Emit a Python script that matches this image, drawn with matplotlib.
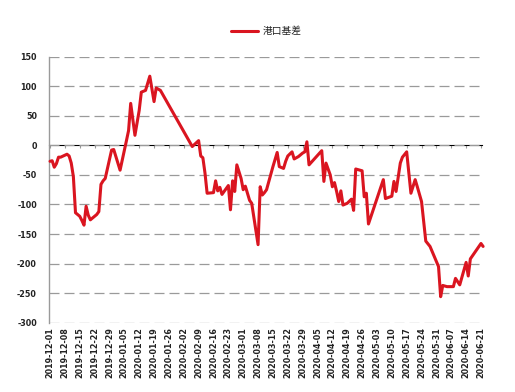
import matplotlib
matplotlib.use('Agg')
import matplotlib.pyplot as plt
import matplotlib.dates as mdates
import pandas as pd

plt.rcParams['font.family'] = ['DejaVu Sans', 'Noto Sans CJK SC']
plt.rcParams['axes.unicode_minus'] = False

SERIES_NAME = '港口基差'

# daily port basis
DATES = [
    '2019-12-01', '2019-12-02', '2019-12-03', '2019-12-04', '2019-12-05',
    '2019-12-06', '2019-12-09', '2019-12-10', '2019-12-11', '2019-12-12',
    '2019-12-13', '2019-12-15', '2019-12-16', '2019-12-17', '2019-12-18',
    '2019-12-19', '2019-12-20', '2019-12-23', '2019-12-24', '2019-12-25',
    '2019-12-26', '2019-12-27', '2019-12-30', '2019-12-31', '2020-01-03',
    '2020-01-06', '2020-01-07', '2020-01-08', '2020-01-10', '2020-01-12',
    '2020-01-13', '2020-01-15', '2020-01-17', '2020-01-19', '2020-01-20',
    '2020-01-22', '2020-02-06', '2020-02-09', '2020-02-10', '2020-02-11',
    '2020-02-12', '2020-02-13', '2020-02-16', '2020-02-17', '2020-02-18',
    '2020-02-19', '2020-02-20', '2020-02-23', '2020-02-24', '2020-02-25',
    '2020-02-26', '2020-02-27', '2020-02-29', '2020-03-01', '2020-03-02',
    '2020-03-04', '2020-03-05', '2020-03-08', '2020-03-09', '2020-03-10',
    '2020-03-11', '2020-03-12', '2020-03-15', '2020-03-17', '2020-03-18',
    '2020-03-20', '2020-03-21', '2020-03-22', '2020-03-24', '2020-03-25',
    '2020-03-27', '2020-03-29', '2020-03-30', '2020-03-31', '2020-04-01',
    '2020-04-03', '2020-04-07', '2020-04-08', '2020-04-09', '2020-04-11',
    '2020-04-12', '2020-04-13', '2020-04-14', '2020-04-15', '2020-04-16',
    '2020-04-17', '2020-04-19', '2020-04-21', '2020-04-22', '2020-04-23',
    '2020-04-26', '2020-04-27', '2020-04-28', '2020-04-29', '2020-05-06',
    '2020-05-07', '2020-05-10', '2020-05-11', '2020-05-12', '2020-05-14',
    '2020-05-15', '2020-05-17', '2020-05-19', '2020-05-21', '2020-05-22',
    '2020-05-24', '2020-05-26', '2020-05-28', '2020-05-30', '2020-06-01',
    '2020-06-02', '2020-06-03', '2020-06-05', '2020-06-08', '2020-06-09',
    '2020-06-11', '2020-06-14', '2020-06-15', '2020-06-16', '2020-06-21',
    '2020-06-22',
]
BASIS = [
    -27, -26, -37, -31, -20,
    -20, -15, -18, -30, -53,
    -114, -120, -127, -135, -103,
    -118, -126, -117, -112, -66,
    -60, -56, -8, -7, -42,
    8, 25, 71, 17, 59,
    90, 93, 117, 74, 97,
    93, -2, 8, -18, -21,
    -47, -81, -80, -60, -77,
    -71, -83, -68, -109, -60,
    -78, -33, -56, -75, -69,
    -93, -98, -168, -70, -84,
    -80, -75, -36, -12, -36,
    -39, -27, -18, -11, -23,
    -19, -13, -11, 6, -33,
    -25, -9, -61, -30, -50,
    -70, -63, -78, -95, -77,
    -101, -98, -91, -110, -40,
    -43, -87, -81, -133, -58,
    -90, -86, -61, -78, -30,
    -20, -11, -81, -58, -70,
    -95, -162, -171, -188, -205,
    -256, -237, -239, -239, -225,
    -236, -198, -221, -192, -166,
    -171,
]

TICK_FIRST = '2019-12-01'
TICK_LAST = '2020-06-21'
Y_TICKS = list(range(-300, 151, 50))

RED = '#DA1520'
GRAY = '#9A9A9A'

x = pd.to_datetime(DATES)
week_ticks = pd.date_range(TICK_FIRST, TICK_LAST, freq='7D')

fig = plt.figure(figsize=(5.15, 3.92), dpi=100)
ax = fig.add_axes([0.0961, 0.1768, 0.8399, 0.6786])

ax.plot(x, BASIS, color=RED, linewidth=2.2, solid_joinstyle='round',
        solid_capstyle='round', label=SERIES_NAME, clip_on=False, zorder=3)

ax.set_ylim(-300, 150)
ax.set_yticks(Y_TICKS)
ax.set_xlim(pd.Timestamp(TICK_FIRST) - pd.Timedelta(hours=6),
            pd.Timestamp(TICK_LAST) + pd.Timedelta(hours=12))
ax.set_xticks(week_ticks)
ax.xaxis.set_major_formatter(mdates.DateFormatter('%Y-%m-%d'))

ax.grid(True, axis='y', color=GRAY, linestyle=(0, (8, 4)), linewidth=0.9, zorder=0)
ax.tick_params(axis='x', length=0, labelsize=5.8, labelrotation=90, pad=3,
               labelcolor='#222222')
ax.tick_params(axis='y', length=0, labelsize=5.8, pad=9, labelcolor='#222222')
for lbl in ax.get_xticklabels() + ax.get_yticklabels():
    lbl.set_fontweight('bold')

for s in ('top', 'right', 'bottom'):
    ax.spines[s].set_visible(False)
ax.spines['left'].set_color(GRAY)
ax.spines['left'].set_linewidth(1.0)

# horizontal axis crosses at zero
zero_frac = (0 - (-300)) / (150 - (-300))
sec = ax.secondary_xaxis(zero_frac)
sec.set_xticks(week_ticks)
sec.tick_params(axis='x', direction='in', length=2.5, width=0.8, color=GRAY,
                labelbottom=False, labeltop=False)
sec.spines['bottom'].set_color(GRAY)
sec.spines['bottom'].set_linewidth(1.0)

leg = fig.legend(loc='center', bbox_to_anchor=(0.517, 0.921), frameon=False,
                 fontsize=7, handlelength=2.8, handletextpad=0.5)
for t in leg.get_texts():
    t.set_color('#222222')

fig.savefig('out.png', dpi=100)
